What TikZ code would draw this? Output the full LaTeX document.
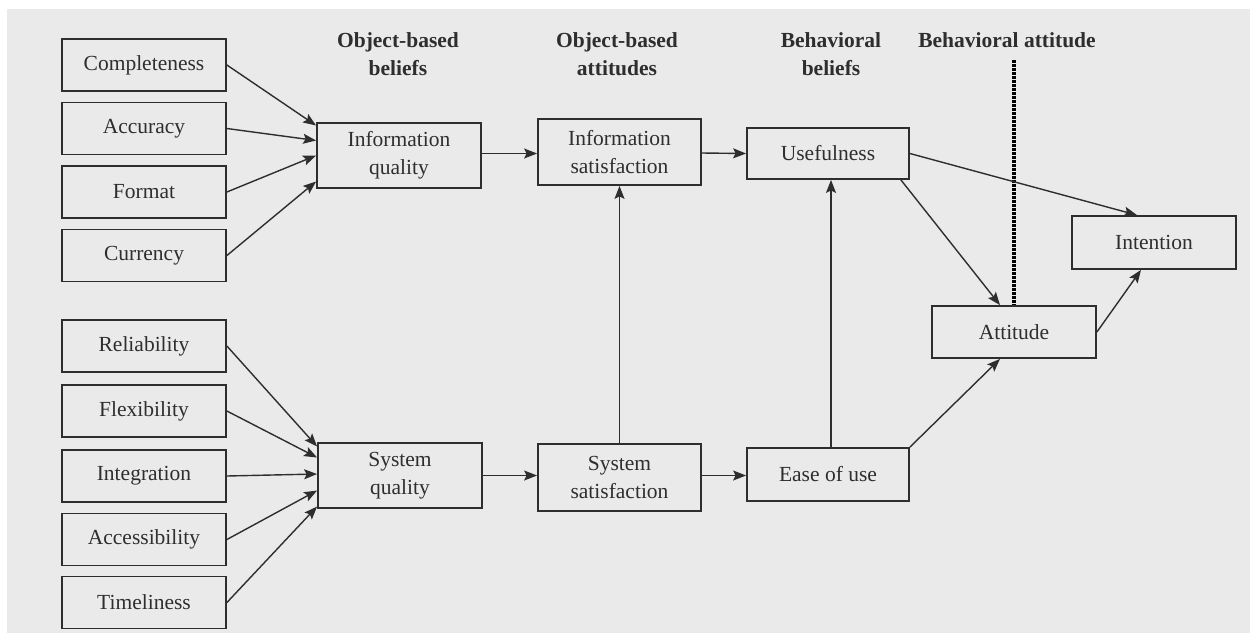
\documentclass[tikz,border=0pt]{standalone}
\usepackage{fontspec}
\setmainfont{Liberation Serif}
\usetikzlibrary{arrows.meta,calc}
\definecolor{bgray}{HTML}{EAEAEA}
\definecolor{ink}{HTML}{2E2E2E}
\tikzset{
  box/.style={draw=ink, line width=1.8pt, minimum width=164pt, minimum height=52pt,
    inner sep=0pt, align=center, text=ink, font=\fontsize{21.5}{28}\selectfont},
  head/.style={align=center, text=ink, font=\bfseries\fontsize{21.5}{28}\selectfont},
  conn/.style={draw=ink, line width=1.4pt, -{Stealth[length=13pt,width=10pt,inset=2.5pt]}},
  divider/.style={draw=black, line width=4pt, dash pattern=on 2.5pt off 1.5pt}
}
\begin{document}
\begin{tikzpicture}[x=1pt,y=-1pt]
\useasboundingbox (0,0) rectangle (1250,633);
\fill[white] (0,0) rectangle (1250,633);
\fill[bgray] (7,9) rectangle (1250,633);

% headings
\node[head] (h1) at (398,54) {Object-based\\beliefs};
\node[head] (h2) at (617,54) {Object-based\\attitudes};
\node[head] (h3) at (831,54) {Behavioral\\beliefs};
\node[head] (h4) at (1007,40) {Behavioral attitude};

% left column
\node[box] (comp) at (144,65) {Completeness};
\node[box] (accu) at (144,128.5) {Accuracy};
\node[box] (form) at (144,192) {Format};
\node[box] (curr) at (144,255.5) {Currency};
\node[box] (reli) at (144,346) {Reliability};
\node[box] (flex) at (144,411) {Flexibility};
\node[box] (inte) at (144,476) {Integration};
\node[box] (acce) at (144,539.5) {Accessibility};
\node[box] (time) at (144,602.5) {Timeliness};

% middle
\node[box, minimum height=65pt] (iq) at (399,155.5) {Information\\quality};
\node[box, minimum width=163pt, minimum height=66pt] (is) at (619.5,152) {Information\\satisfaction};
\node[box, minimum height=65pt] (sq) at (400,475.5) {System\\quality};
\node[box, minimum width=163pt, minimum height=67pt] (ss) at (619.5,477.5) {System\\satisfaction};

% right
\node[box, minimum width=162pt, minimum height=51pt] (use) at (828,153.5) {Usefulness};
\node[box, minimum width=162pt, minimum height=53pt] (eou) at (828,474.5) {Ease of use};
\node[box] (att) at (1014,332) {Attitude};
\node[box, minimum height=53pt] (int) at (1154,242.5) {Intention};

% dotted divider
\coordinate (dtop) at (1014,60);
\draw[divider] (dtop) -- (att.north);

% inputs to information quality
\draw[conn] (comp.east) -- ($(iq.west)+(0,-30)$);
\draw[conn] (accu.east) -- ($(iq.west)+(0,-15)$);
\draw[conn] (form.east) -- ($(iq.west)+(0,0)$);
\draw[conn] (curr.east) -- ($(iq.west)+(0,26)$);

% inputs to system quality
\draw[conn] (reli.east) -- ($(sq.west)+(0,-29)$);
\draw[conn] (flex.east) -- ($(sq.west)+(0,-18)$);
\draw[conn] (inte.east) -- ($(sq.west)+(0,-1.5)$);
\draw[conn] (acce.east) -- ($(sq.west)+(0,15)$);
\draw[conn] (time.east) -- ($(sq.west)+(0,31)$);

% main chain
\draw[conn] ($(iq.east)+(0,-2)$) -- ($(is.west)+(0,1.5)$);
\draw[conn] ($(is.east)+(0,1)$) -- (use.west);
\draw[conn] (sq.east) -- ($(ss.west)+(0,-2)$);
\draw[conn] ($(ss.east)+(0,-2)$) -- ($(eou.west)+(0,1)$);
\draw[conn] (ss.north) -- (is.south);
\draw[conn] ($(eou.north)+(3,0)$) -- ($(use.south)+(3,0)$);

% behavioural part
\draw[conn] (use.east) -- ($(int.north)+(-17,0)$);
\draw[conn] ($(use.south east)+(-9,0)$) -- ($(att.north)+(-14,0)$);
\draw[conn] (att.east) -- ($(int.south)+(-13,0)$);
\draw[conn] (eou.north east) -- ($(att.south)+(-14,0)$);
\end{tikzpicture}
\end{document}
